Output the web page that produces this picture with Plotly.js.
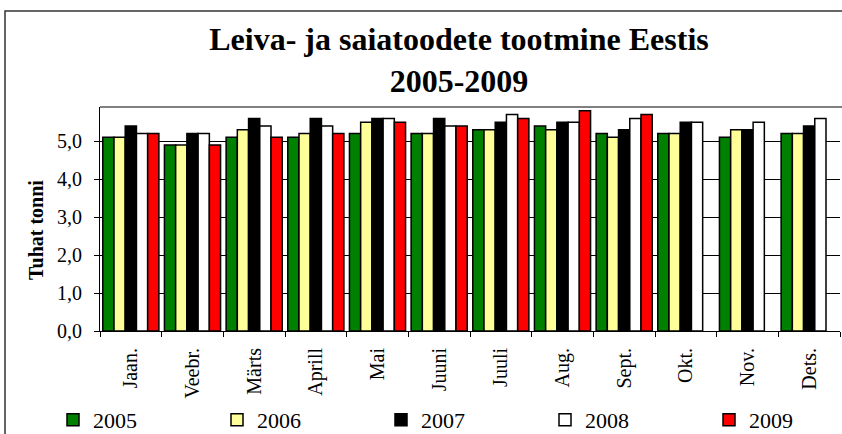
<!DOCTYPE html>
<html>
<head>
<meta charset="utf-8">
<script src="https://cdn.plot.ly/plotly-3.0.1.min.js"></script>
<style>html,body{margin:0;padding:0;background:#fff;}#chart{width:842px;height:434px;}</style>
</head>
<body>
<div id="chart"></div>
<script>
const months = ["Jaan.", "Veebr.", "Märts", "Aprill", "Mai", "Juuni", "Juuli", "Aug.", "Sept.", "Okt.", "Nov.", "Dets."];
const years = ["2005", "2006", "2007", "2008", "2009"];
const v2005 = [5.1, 4.9, 5.1, 5.1, 5.2, 5.2, 5.3, 5.4, 5.2, 5.2, 5.1, 5.2];
const v2006 = [5.1, 4.9, 5.3, 5.2, 5.5, 5.2, 5.3, 5.3, 5.1, 5.2, 5.3, 5.2];
const v2007 = [5.4, 5.2, 5.6, 5.6, 5.6, 5.6, 5.5, 5.5, 5.3, 5.5, 5.3, 5.4];
const v2008 = [5.2, 5.2, 5.4, 5.4, 5.6, 5.4, 5.7, 5.5, 5.6, 5.5, 5.5, 5.6];
const v2009 = [5.2, 4.9, 5.1, 5.2, 5.5, 5.4, 5.6, 5.8, 5.7, null, null, null];
const colors = ["#008000", "#FFFF99", "#000000", "#FFFFFF", "#FF0000"];
const series = [v2005, v2006, v2007, v2008, v2009];

const FONT = "'Liberation Serif', serif";
const legendNames = ["legend", "legend2", "legend3", "legend4", "legend5"];
const legendX = [53, 217, 381, 545, 709];

const traces = series.map((vals, i) => ({
  type: "bar",
  name: years[i],
  x: months,
  y: vals,
  legend: legendNames[i],
  marker: {color: colors[i], line: {color: "#000000", width: 1.5}},
  hoverinfo: "skip"
}));

const layout = {
  width: 842,
  height: 434,
  margin: {l: 100, r: 2, t: 107, b: 103},
  paper_bgcolor: "#ffffff",
  plot_bgcolor: "#ffffff",
  font: {family: FONT, color: "#000000", size: 20},
  separators: ", ",
  barmode: "group",
  bargap: 0.09,
  bargroupgap: 0,
  showlegend: true,
  title: {
    text: "<b>Leiva- ja saiatoodete tootmine Eestis<br>2005-2009</b>",
    font: {family: FONT, size: 32, color: "#000000"},
    xref: "container", yref: "container",
    x: 459 / 842, xanchor: "center",
    y: 1 - 50 / 434, yanchor: "middle"
  },
  xaxis: {
    type: "category",
    tickangle: -90,
    ticks: "outside",
    tickson: "boundaries",
    ticklen: 5,
    tickcolor: "#000000",
    showgrid: false,
    showline: true,
    linecolor: "#000000",
    linewidth: 1,
    tickfont: {family: FONT, size: 20, color: "#000000"},
    ticklabelstandoff: 8
  },
  yaxis: {
    range: [0, 5.9],
    dtick: 1,
    tick0: 0,
    tickformat: ".1f",
    ticks: "outside",
    ticklen: 5,
    tickcolor: "#000000",
    showgrid: true,
    gridcolor: "#000000",
    gridwidth: 1,
    showline: true,
    linecolor: "#000000",
    linewidth: 1,
    zeroline: false,
    tickfont: {family: FONT, size: 20, color: "#000000"},
    ticklabelstandoff: 8
  },
  annotations: [{
    text: "<b>Tuhat tonni</b>",
    xref: "paper", yref: "paper",
    x: (36 - 100) / 740, y: (331 - 230) / 224,
    xanchor: "center", yanchor: "middle",
    textangle: -90,
    showarrow: false,
    font: {family: FONT, size: 20, color: "#000000"}
  }],
  shapes: [
    {type: "line", xref: "paper", yref: "paper", x0: 0, x1: 1.01, y0: 1, y1: 1,
     line: {color: "#808080", width: 2}},
    {type: "rect", xref: "paper", yref: "paper",
     x0: (5 - 100) / 740, x1: 1.2, y0: -0.6, y1: (331 - 11) / 224,
     line: {color: "#333333", width: 1.5}, fillcolor: "rgba(0,0,0,0)", layer: "below"}
  ]
};

legendNames.forEach((ln, i) => {
  layout[ln] = {
    orientation: "h",
    xref: "container", yref: "container",
    x: legendX[i] / 842, xanchor: "left",
    y: 14 / 434, yanchor: "middle",
    itemwidth: 30,
    font: {family: FONT, size: 22, color: "#000000"},
    bgcolor: "rgba(0,0,0,0)"
  };
});

Plotly.newPlot("chart", traces, layout, {displayModeBar: false, staticPlot: true});
</script>
</body>
</html>
